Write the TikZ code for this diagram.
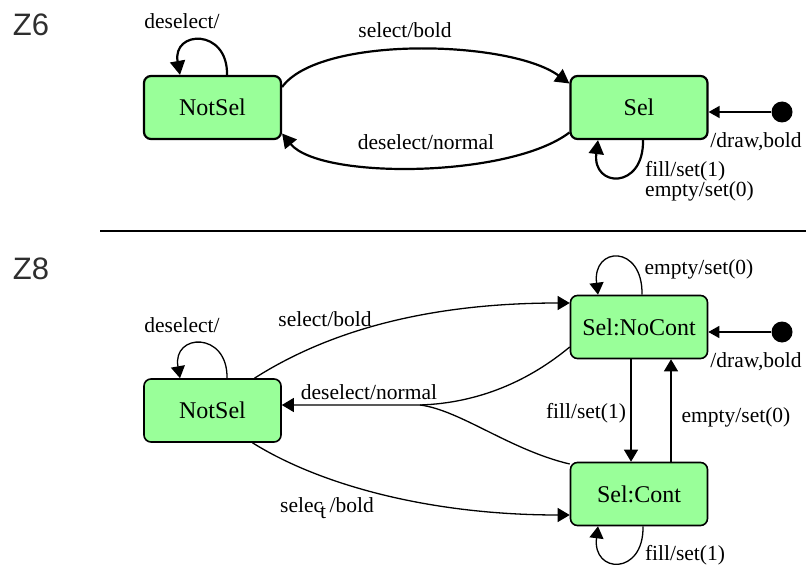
\documentclass[tikz,border=0pt]{standalone}
\usepackage{fontspec}
\setmainfont{Liberation Serif}
\newfontfamily\zsans{Liberation Sans}
\usetikzlibrary{arrows.meta,calc}
\definecolor{stategreen}{RGB}{153,255,153}
\begin{document}
\begin{tikzpicture}[x=1pt,y=1pt,
  statesix/.style={draw, line width=2.2pt, fill=stategreen, rounded corners=7pt, minimum width=137pt, minimum height=63pt, inner sep=0pt, font=\fontsize{24}{26}\selectfont},
  stateeight/.style={statesix, line width=1.6pt},
  lbl/.style={inner sep=0pt, font=\fontsize{21.5}{18}\selectfont},
  zlbl/.style={inner sep=0pt, font=\zsans\fontsize{31}{33}\selectfont, text=black!82},
  edgesix/.style={line width=2.2pt, -{Triangle[length=14pt,width=15pt]}},
  edgeeight/.style={line width=1.3pt, -{Triangle[length=12pt,width=14pt]}},
  initdot/.style={circle, fill=black, minimum size=21pt, inner sep=0pt},
  initsix/.style={line width=1.7pt, -{Triangle[length=11pt,width=12pt]}},
  initeight/.style={line width=1.3pt, -{Triangle[length=11pt,width=12pt]}},
]
\useasboundingbox (0,0) rectangle (806,-567);

% ---------- Z6 ----------
\node[zlbl] (z6) at (31,-25) {Z6};
\node[statesix] (ns6) at (212.5,-107.5) {NotSel};
\node[statesix] (s6) at (639,-107.5) {Sel};
\node[initdot] (dot6) at (782,-112) {};

\draw[edgesix] ([xshift=14.5pt]ns6.north) .. controls (228,-28) and (172,-30) .. ([xshift=-32.5pt]ns6.north);
\node[lbl] (l6a) at (182,-21) {deselect/};

\draw[edgesix] ([yshift=20.5pt]ns6.east) .. controls (320,-35) and (510,-40) .. ([yshift=24pt]s6.west);
\node[lbl] (l6b) at (405,-30) {select/bold};

\draw[edgesix] ([yshift=-25pt]s6.west) .. controls (510,-178) and (320,-180) .. ([yshift=-26pt]ns6.east);
\node[lbl] (l6c) at (426,-142) {deselect/normal};

\draw[initsix] (dot6) -- (dot6 -| s6.east);
\node[lbl] (l6d) at (756,-142) {/draw,bold};

\draw[edgesix] ([xshift=4pt]s6.south) .. controls (644,-190) and (592,-188) .. ([xshift=-41pt]s6.south);
\node[lbl, align=left, anchor=west] (l6e) at (645,-181) {fill/set(1)\\empty/set(0)};

% separator
\draw[line width=2.5pt] (100,-231) -- (806,-231);

% ---------- Z8 ----------
\node[zlbl] (z8) at (31,-269) {Z8};
\node[stateeight] (ns8) at (212.5,-410.5) {NotSel};
\node[stateeight] (nc8) at (639,-327) {Sel:NoCont};
\node[stateeight] (c8) at (639,-494) {Sel:Cont};
\node[initdot] (dot8) at (782,-332) {};
\coordinate (m8) at (420,-405);

\draw[edgeeight] ([xshift=14.5pt]ns8.north) .. controls (228,-331) and (172,-333) .. ([xshift=-32.5pt]ns8.north);
\node[lbl] (l8a) at (182,-325) {deselect/};

\draw[edgeeight] ([xshift=42pt]ns8.north) .. controls (330,-330) and (430,-303) .. ([yshift=24pt]nc8.west);
\node[lbl] (l8b) at (325,-319) {select/bold};

\draw[edgeeight] ([yshift=-20pt]nc8.west) .. controls (530,-380) and (480,-403) .. (m8) -- (ns8.east |- m8);
\draw[line width=1.3pt] ([yshift=30pt]c8.west) .. controls (510,-450) and (460,-410) .. (m8);
\node[lbl] (l8c) at (369,-392) {deselect/normal};

\draw[edgeeight] ([xshift=40pt]ns8.south) .. controls (320,-485) and (430,-515) .. ([yshift=-21pt]c8.west);
\node[lbl] (l8d) at (327,-508) {selec\kern-0.14em\raisebox{-0.25em}{t}\,/bold};

\draw[edgeeight] ([xshift=3pt]nc8.north) .. controls (643,-244) and (592,-246) .. ([xshift=-41pt]nc8.north);
\node[lbl] (l8e) at (699,-269) {empty/set(0)};

\draw[initeight] (dot8) -- (dot8 -| nc8.east);
\node[lbl] (l8f) at (756,-362) {/draw,bold};

\draw[edgeeight] ([xshift=-8pt]nc8.south) -- ([xshift=-8pt]c8.north);
\node[lbl] (l8g) at (586,-413) {fill/set(1)};

\draw[edgeeight] ([xshift=32pt]c8.north) -- ([xshift=32pt]nc8.south);
\node[lbl] (l8h) at (736,-417) {empty/set(0)};

\draw[edgeeight] ([xshift=4pt]c8.south) .. controls (644,-576) and (592,-574) .. ([xshift=-41pt]c8.south);
\node[lbl] (l8i) at (685,-555) {fill/set(1)};

\end{tikzpicture}
\end{document}
